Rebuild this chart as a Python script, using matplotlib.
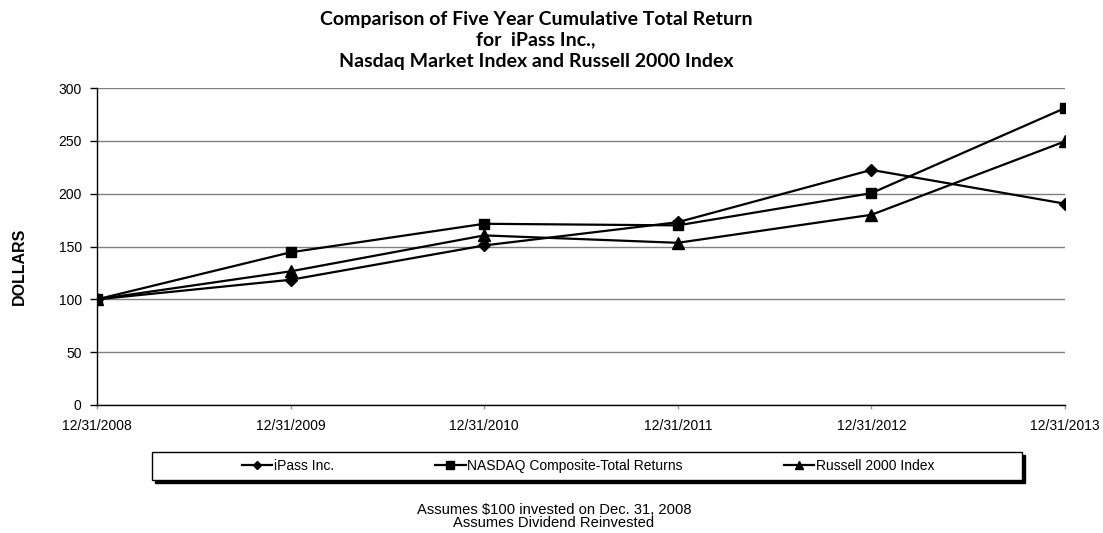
import matplotlib
matplotlib.use("Agg")
import matplotlib.pyplot as plt
from matplotlib.lines import Line2D
from matplotlib.patches import Rectangle

# data
datas = ["12/31/2008", "12/31/2009", "12/31/2010", "12/31/2011", "12/31/2012", "12/31/2013"]
ipass = [100, 118.5, 151, 173, 222.5, 190.5]
nasdaq = [100, 144.5, 171.5, 170, 200.5, 281]
russell = [100, 126.5, 160.5, 153.5, 180, 249.5]
nomes = ["iPass Inc.", "NASDAQ Composite-Total Returns", "Russell 2000 Index"]
marcadores = ["D", "s", "^"]
tamanhos = [6.5, 7.5, 8.5]

W, H = 1103, 533
plt.rcParams["font.family"] = ["Liberation Sans", "DejaVu Sans"]

fig = plt.figure(figsize=(W / 100, H / 100), dpi=100)
ax = fig.add_axes([97 / W, (H - 405) / H, (1065 - 97) / W, (405 - 88) / H])

x = list(range(len(datas)))
for serie, m, s in zip([ipass, nasdaq, russell], marcadores, tamanhos):
    ax.plot(x, serie, color="black", lw=1.6, marker=m, markersize=s,
            markerfacecolor="black", markeredgecolor="black")

ax.set_xlim(0, len(datas) - 1)
ax.set_ylim(0, 300)
ax.set_yticks(range(0, 301, 50))
ax.set_xticks(x)
ax.set_xticklabels(datas)
ax.yaxis.grid(True, color="#808080", lw=1)
ax.set_axisbelow(True)
for lado in ["top", "right"]:
    ax.spines[lado].set_visible(False)
ax.spines["left"].set_linewidth(1)
ax.spines["bottom"].set_linewidth(1)
ax.tick_params(axis="y", direction="out", length=5, width=1, pad=6, labelsize=10)
ax.tick_params(axis="x", direction="out", length=3, width=1, color="#999999",
               pad=7, labelsize=10)

# titulo
titulo = ["Comparison of Five Year Cumulative Total Return",
          "for  iPass Inc.,",
          "Nasdaq Market Index and Russell 2000 Index"]
for linha, y in zip(titulo, [20, 40, 61]):
    fig.text(536 / W, 1 - y / H, linha, ha="center", va="center",
             fontsize=14, fontweight="bold", family="Lato")

fig.text(19 / W, 1 - 266 / H, "DOLLARS", rotation=90, ha="center", va="center",
         fontsize=11.5, fontweight="bold")

# caixa da legenda com sombra
fig.patches.append(Rectangle((155 / W, 1 - 483 / H), 870 / W, 28 / H,
                             transform=fig.transFigure, facecolor="black",
                             edgecolor="black", zorder=1))
fig.patches.append(Rectangle((152 / W, 1 - 480 / H), 870 / W, 28 / H,
                             transform=fig.transFigure, facecolor="white",
                             edgecolor="black", lw=1, zorder=2))

handles = [Line2D([], [], color="black", lw=1.6, marker=m, markersize=s * 0.7)
           for m, s in zip(marcadores, tamanhos)]
leg = fig.legend(handles, nomes, loc="center", bbox_to_anchor=(588 / W, 1 - 466 / H),
                 ncol=3, frameon=False, fontsize=10, handlelength=2.2,
                 handletextpad=0.1, columnspacing=7.3)
leg.set_zorder(3)

fig.text(554 / W, 1 - 510 / H, "Assumes $100 invested on Dec. 31, 2008",
         ha="center", va="center", fontsize=10.6)
fig.text(554 / W, 1 - 523 / H, "Assumes Dividend Reinvested",
         ha="center", va="center", fontsize=10.6)

fig.savefig("out.png", dpi=100)
